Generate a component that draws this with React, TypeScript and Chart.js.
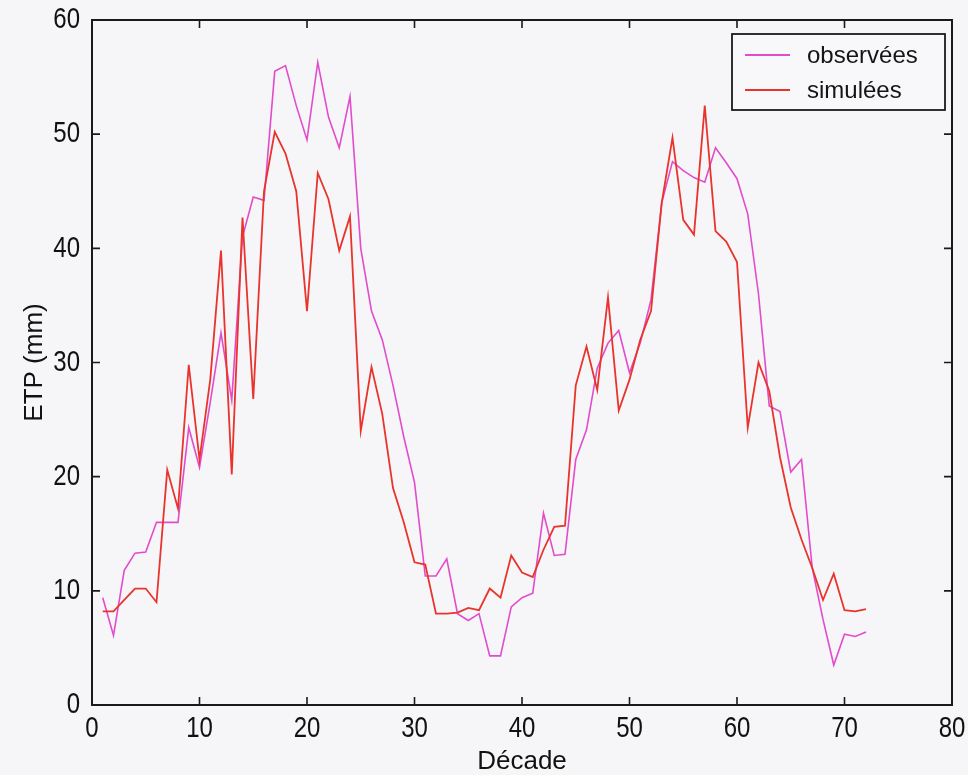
import React, { useEffect, useRef } from 'react';
import { Chart, registerables } from 'chart.js';

Chart.register(...registerables);

const decades = [
  1, 2, 3, 4, 5, 6, 7, 8, 9, 10, 11, 12, 13, 14, 15, 16, 17, 18, 19, 20,
  21, 22, 23, 24, 25, 26, 27, 28, 29, 30, 31, 32, 33, 34, 35, 36, 37, 38, 39, 40,
  41, 42, 43, 44, 45, 46, 47, 48, 49, 50, 51, 52, 53, 54, 55, 56, 57, 58, 59, 60,
  61, 62, 63, 64, 65, 66, 67, 68, 69, 70, 71, 72,
];

const observees = [
  9.4, 6.1, 11.8, 13.3, 13.4, 16.0, 16.0, 16.0, 24.3, 20.8,
  26.5, 32.6, 26.7, 41.0, 44.5, 44.2, 55.5, 56.0, 52.5, 49.5,
  56.3, 51.5, 48.8, 53.3, 40.0, 34.5, 32.0, 28.0, 23.5, 19.5,
  11.3, 11.3, 12.8, 8.0, 7.4, 8.0, 4.3, 4.3, 8.6, 9.4,
  9.8, 16.8, 13.1, 13.2, 21.5, 24.1, 29.5, 31.7, 32.8, 29.1,
  31.7, 35.5, 44.0, 47.6, 46.8, 46.2, 45.8, 48.8, 47.5, 46.1,
  43.0, 36.0, 26.2, 25.7, 20.4, 21.5, 12.0, 7.5, 3.5, 6.2,
  6.0, 6.4,
];

const simulees = [
  8.2, 8.2, 9.2, 10.2, 10.2, 9.0, 20.6, 17.2, 29.8, 21.5,
  28.5, 39.8, 20.2, 42.7, 26.8, 45.0, 50.2, 48.3, 45.0, 34.5,
  46.6, 44.3, 39.8, 42.8, 24.0, 29.6, 25.5, 19.0, 16.0, 12.5,
  12.3, 8.0, 8.0, 8.1, 8.5, 8.3, 10.2, 9.4, 13.1, 11.6,
  11.2, 13.6, 15.6, 15.7, 28.0, 31.4, 27.6, 35.7, 25.8, 28.5,
  32.0, 34.5, 44.0, 49.7, 42.5, 41.2, 52.5, 41.5, 40.6, 38.8,
  24.3, 30.0, 27.5, 21.7, 17.3, 14.5, 12.0, 9.2, 11.5, 8.3,
  8.2, 8.4,
];

const seriesLabels = ['observées', 'simulées'];
const seriesColors = ['#e24ccc', '#e8342c'];

const xTitle = 'Décade';
const yTitle = 'ETP (mm)';

const SANS = "'Liberation Sans', Arial, sans-serif";

const framePlugin = {
  id: 'matlabFrame',
  beforeDraw(chart: any) {
    const { ctx, width, height } = chart;
    ctx.save();
    ctx.fillStyle = '#f6f6f8';
    ctx.fillRect(0, 0, width, height);
    ctx.restore();
  },
  afterDraw(chart: any) {
    const { ctx, chartArea } = chart;
    const { left, right, top, bottom } = chartArea;
    const xs = chart.scales.x;
    const ys = chart.scales.y;
    const tl = 8;
    ctx.save();
    ctx.strokeStyle = '#1a1a1a';
    ctx.lineWidth = 1.6;
    ctx.beginPath();
    xs.ticks.forEach((t: any) => {
      const px = xs.getPixelForValue(t.value);
      ctx.moveTo(px, bottom);
      ctx.lineTo(px, bottom - tl);
      ctx.moveTo(px, top);
      ctx.lineTo(px, top + tl);
    });
    ys.ticks.forEach((t: any) => {
      const py = ys.getPixelForValue(t.value);
      ctx.moveTo(left, py);
      ctx.lineTo(left + tl, py);
      ctx.moveTo(right, py);
      ctx.lineTo(right - tl, py);
    });
    ctx.stroke();
    ctx.lineWidth = 2;
    ctx.strokeRect(left, top, right - left, bottom - top);

    // condensed tick labels (MATLAB narrow look)
    ctx.fillStyle = '#111';
    ctx.font = `30px ${SANS}`;
    ctx.textBaseline = 'middle';
    const sx = 0.8;
    xs.ticks.forEach((t: any) => {
      const px = xs.getPixelForValue(t.value);
      ctx.save();
      ctx.translate(px, bottom + 24);
      ctx.scale(sx, 1);
      ctx.textAlign = 'center';
      ctx.fillText(String(t.label ?? t.value), 0, 0);
      ctx.restore();
    });
    ys.ticks.forEach((t: any) => {
      const py = ys.getPixelForValue(t.value);
      ctx.save();
      ctx.translate(left - 12, py);
      ctx.scale(sx, 1);
      ctx.textAlign = 'right';
      ctx.fillText(String(t.label ?? t.value), 0, 0);
      ctx.restore();
    });

    // legend box
    const bw = 213;
    const bh = 76;
    const bx = right - bw - 7;
    const by = top + 14;
    ctx.fillStyle = '#f8f8fa';
    ctx.fillRect(bx, by, bw, bh);
    ctx.strokeStyle = '#1a1a1a';
    ctx.lineWidth = 1.8;
    ctx.strokeRect(bx, by, bw, bh);
    chart.data.datasets.forEach((ds: any, i: number) => {
      const cy = by + 21 + i * 35;
      ctx.strokeStyle = ds.borderColor;
      ctx.lineWidth = 1.8;
      ctx.beginPath();
      ctx.moveTo(bx + 13, cy);
      ctx.lineTo(bx + 58, cy);
      ctx.stroke();
      ctx.fillStyle = '#151515';
      ctx.font = `24px ${SANS}`;
      ctx.textBaseline = 'middle';
      ctx.textAlign = 'left';
      ctx.fillText(ds.label, bx + 75, cy + 1);
    });
    ctx.restore();
  },
};

export default function App() {
  const canvasRef = useRef<HTMLCanvasElement | null>(null);

  useEffect(() => {
    if (!canvasRef.current) return;
    const chart = new Chart(canvasRef.current, {
      type: 'line',
      data: {
        datasets: [
          {
            label: seriesLabels[0],
            data: observees.map((v, i) => ({ x: decades[i], y: v })),
            borderColor: seriesColors[0],
            backgroundColor: seriesColors[0],
            borderWidth: 1.6,
            pointRadius: 0,
            tension: 0,
            order: 2,
          },
          {
            label: seriesLabels[1],
            data: simulees.map((v, i) => ({ x: decades[i], y: v })),
            borderColor: seriesColors[1],
            backgroundColor: seriesColors[1],
            borderWidth: 1.8,
            pointRadius: 0,
            tension: 0,
            order: 1,
          },
        ],
      },
      options: {
        animation: false,
        responsive: false,
        maintainAspectRatio: false,
        events: [],
        layout: { padding: { top: 20, right: 16, left: 0, bottom: 0 } },
        plugins: {
          legend: { display: false },
          tooltip: { enabled: false },
          title: { display: false },
        },
        scales: {
          x: {
            type: 'linear',
            min: 0,
            max: 80,
            grid: { display: false, drawTicks: false },
            border: { display: false },
            ticks: { stepSize: 10, autoSkip: false, display: false },
            title: {
              display: true,
              text: xTitle,
              color: '#111',
              font: { family: SANS, size: 26, lineHeight: 1 },
              padding: { top: 0, bottom: 0 },
            },
            afterFit(scale: any) {
              scale.height = 70;
            },
          },
          y: {
            type: 'linear',
            min: 0,
            max: 60,
            grid: { display: false, drawTicks: false },
            border: { display: false },
            ticks: { stepSize: 10, autoSkip: false, display: false },
            title: {
              display: true,
              text: yTitle,
              color: '#111',
              font: { family: SANS, size: 26 },
              padding: { top: 19, bottom: 0 },
            },
            afterFit(scale: any) {
              scale.width = 92;
            },
          },
        },
      },
      plugins: [framePlugin],
    });
    return () => chart.destroy();
  }, []);

  return (
    <div style={{ position: 'absolute', left: 0, top: 0, width: 968, height: 775 }}>
      <canvas ref={canvasRef} width={968} height={775} style={{ display: 'block' }} />
    </div>
  );
}
